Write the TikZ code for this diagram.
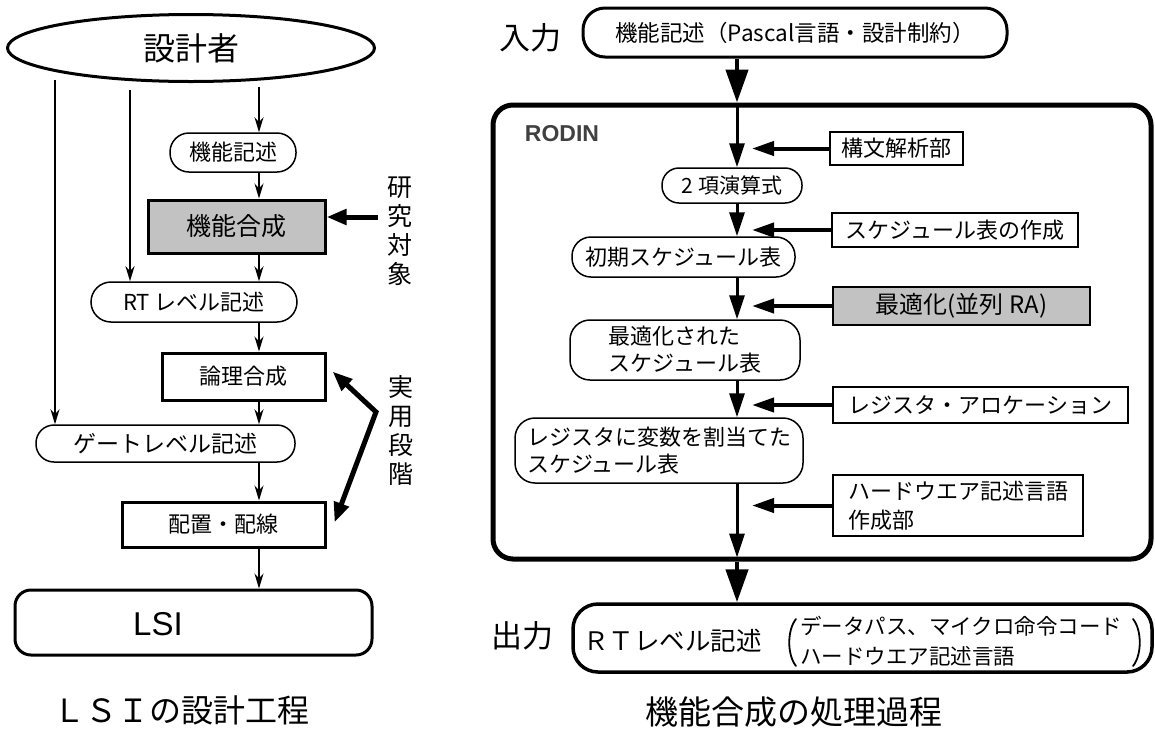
\documentclass[tikz,border=0pt]{standalone}
\usepackage{fontspec}
\setmainfont{Noto Sans CJK JP}
\newfontfamily\latinsans{Liberation Sans}
\usetikzlibrary{shapes.geometric,arrows.meta}
\definecolor{halftone}{gray}{0.76}
\tikzset{
  lbox/.style={draw, line width=1.5pt, inner sep=0pt, font=\fontsize{22}{27}\selectfont},
  lthick/.style={lbox, line width=3pt},
  rbox/.style={draw, line width=1.5pt, inner sep=0pt, align=left, font=\fontsize{22}{27}\selectfont},
  vtext/.style={inner sep=0pt, align=center, font=\fontsize{25}{29}\selectfont},
  la/.style={line width=1.5pt, -{Stealth[length=15pt,width=9pt]}},
  ra/.style={line width=3pt, -{Triangle[length=24pt,width=15pt]}},
  rbig/.style={line width=4.5pt, -{Triangle[length=33pt,width=22pt]}},
  rside/.style={line width=4pt, -{Triangle[length=22pt,width=14pt]}},
  fatarrow/.style={line width=5pt, -{Triangle[length=20pt,width=15pt]}},
  paren/.style={line width=1.8pt, line cap=round},
}
\begin{document}
\begin{tikzpicture}[x=1pt,y=-1pt]
\useasboundingbox (0,0) rectangle (1155,729);

% ---------------- left diagram ----------------
\node[ellipse, draw, line width=3pt, minimum width=367pt, minimum height=67pt, inner sep=0pt,
      font=\fontsize{32}{36}\selectfont] (des) at (191,48) {設計者};
\node[lbox, rounded corners=19pt, minimum width=126pt, minimum height=39pt] (kinou) at (233,152.5) {機能記述};
\node[lthick, fill=halftone, minimum width=177pt, minimum height=53pt,
      font=\fontsize{25}{30}\selectfont] (kgousei) at (236.5,226.5) {機能合成};
\node[lbox, rounded corners=20pt, minimum width=206pt, minimum height=40pt] (rt) at (194,302) {RT レベル記述};
\node[lthick, minimum width=163pt, minimum height=47pt] (ronri) at (243.5,376.5) {論理合成};
\node[lbox, rounded corners=18pt, minimum width=259pt, minimum height=37pt,
      font=\fontsize{23}{27}\selectfont] (gate) at (165.5,443.5) {ゲートレベル記述};
\node[lthick, minimum width=203pt, minimum height=45pt] (haichi) at (223.5,524.5) {配置・配線};
\node[draw, line width=3pt, rounded corners=16pt, minimum width=357pt, minimum height=65pt] (lsi) at (193.5,622.5) {};
\node[inner sep=0pt, font=\latinsans\fontsize{33}{36}\selectfont] (lsitext) at (158,624) {LSI};

\coordinate (colL) at (259,0);
\coordinate (s258) at (259,87);
\coordinate (s55) at (55,80);
\coordinate (s130) at (130,90);

\draw[la] (s258) -- (kinou.north -| colL);
\draw[la] (kinou.south -| colL) -- (kgousei.north -| colL);
\draw[la] (kgousei.south -| colL) -- (rt.north -| colL);
\draw[la] (rt.south -| colL) -- (ronri.north -| colL);
\draw[la] (ronri.south -| colL) -- (gate.north -| colL);
\draw[la] (gate.south -| colL) -- (haichi.north -| colL);
\draw[la] (haichi.south -| colL) -- (lsi.north -| colL);
\draw[la, line width=2pt] (s55) -- (gate.north -| s55);
\draw[la, line width=2.8pt] (s130) -- (rt.north -| s130);

\node[vtext] (kenkyu) at (400,231) {研\\究\\対\\象};
\coordinate (kenq) at (378,217);
\draw[fatarrow] (kenq) -- (kgousei.east |- kenq);

\node[vtext] (jitsuyo) at (401,430) {実\\用\\段\\階};
\coordinate (bend) at (376,412);
\draw[line width=5pt, line join=miter,
      {Triangle[length=20pt,width=15pt]}-{Triangle[length=20pt,width=15pt]}]
      ([xshift=6pt,yshift=5pt]ronri.east) -- (bend) -- ([xshift=8pt,yshift=2pt]haichi.east);

\node[inner sep=0pt, font=\fontsize{32}{36}\selectfont] (cap1) at (181,710) {ＬＳＩの設計工程};

% ---------------- right diagram ----------------
\node[inner sep=0pt, font=\fontsize{31}{36}\selectfont] (nyu) at (530,38) {入力};
\node[draw, line width=3pt, rounded corners=22pt, minimum width=424pt, minimum height=49pt,
      inner sep=0pt, font=\fontsize{22.5}{27}\selectfont] (input) at (795,32.5) {機能記述（Pascal言語・設計制約）};

\node[draw, line width=5pt, rounded corners=20pt, minimum width=658pt, minimum height=454pt, inner sep=0pt] (rodin) at (822,332) {};
\node[inner sep=0pt, text=black!75, font=\latinsans\bfseries\fontsize{23}{26}\selectfont] (rodinlbl) at (562,134) {RODIN};

\node[rbox, minimum width=133pt, minimum height=33pt] (koubun) at (896.5,148.5) {構文解析部};
\node[rbox, rounded corners=17pt, minimum width=140pt, minimum height=35pt,
      font=\fontsize{21}{26}\selectfont] (nikou) at (732,185.5) {2 項演算式};
\node[rbox, minimum width=246pt, minimum height=34pt] (schedsaku) at (955,230) {スケジュール表の作成};
\node[rbox, rounded corners=19pt, minimum width=223pt, minimum height=40pt] (shoki) at (683.5,257) {初期スケジュール表};
\node[rbox, fill=halftone, minimum width=257pt, minimum height=38pt,
      font=\fontsize{24}{28}\selectfont] (saiteki) at (961.5,306) {最適化(並列 RA)};
\node[rbox, rounded corners=20pt, minimum width=230pt, minimum height=60pt] (saitekisched) at (685,350) {最適化された\\スケジュール表};
\node[rbox, minimum width=295pt, minimum height=36pt] (regalloc) at (980.5,405) {レジスタ・アロケーション};
\node[rbox, rounded corners=20pt, minimum width=288pt, minimum height=65pt] (regsched) at (659,450.5) {レジスタに変数を割当てた\\スケジュール表};
\node[rbox, minimum width=250pt, minimum height=61pt, font=\fontsize{22}{29}\selectfont] (hdl) at (958,505.5) {ハードウエア記述言語\\作成部};

\node[draw, line width=3.5pt, rounded corners=25pt, minimum width=579pt, minimum height=68pt, inner sep=0pt] (output) at (862.5,638) {};
\node[inner sep=0pt, font=\fontsize{31}{36}\selectfont] (shutsu) at (522,636) {出力};
\node[anchor=west, inner sep=0pt, font=\fontsize{25.5}{28}\selectfont] (outtxt) at (583,641) {ＲＴレベル記述};
\node[anchor=west, inner sep=0pt, align=left, font=\fontsize{21.5}{30}\selectfont] (outlist) at (800,641)
  {データパス、マイクロ命令コード\\ハードウエア記述言語};
\coordinate (lpt) at (796,619);
\coordinate (lpb) at (796,666);
\coordinate (rpt) at (1133,619);
\coordinate (rpb) at (1133,666);
\draw[paren] (lpt) .. controls (787,630) and (787,655) .. (lpb);
\draw[paren] (rpt) .. controls (1142,630) and (1142,655) .. (rpb);

\node[inner sep=0pt, font=\fontsize{33}{36}\selectfont] (cap2) at (794,712) {機能合成の処理過程};

\coordinate (colR) at (737,0);
\coordinate (tipR) at (752,0);

\draw[rbig] (input.south -| colR) -- (rodin.north -| colR);
\draw[ra] (rodin.north -| colR) -- (nikou.north -| colR);
\draw[ra] (nikou.south -| colR) -- (shoki.north -| colR);
\draw[ra] (shoki.south -| colR) -- (saitekisched.north -| colR);
\draw[ra] (saitekisched.south -| colR) -- (regsched.north -| colR);
\draw[ra] (regsched.south -| colR) -- ([yshift=4pt]rodin.south -| colR);
\draw[rbig] (rodin.south -| colR) -- (output.north -| colR);

\draw[rside] (koubun.west) -- (koubun.west -| tipR);
\draw[rside] (schedsaku.west) -- (schedsaku.west -| tipR);
\draw[rside] (saiteki.west) -- (saiteki.west -| tipR);
\draw[rside] (regalloc.west) -- (regalloc.west -| tipR);
\draw[rside] (hdl.west) -- (hdl.west -| tipR);
\end{tikzpicture}
\end{document}
